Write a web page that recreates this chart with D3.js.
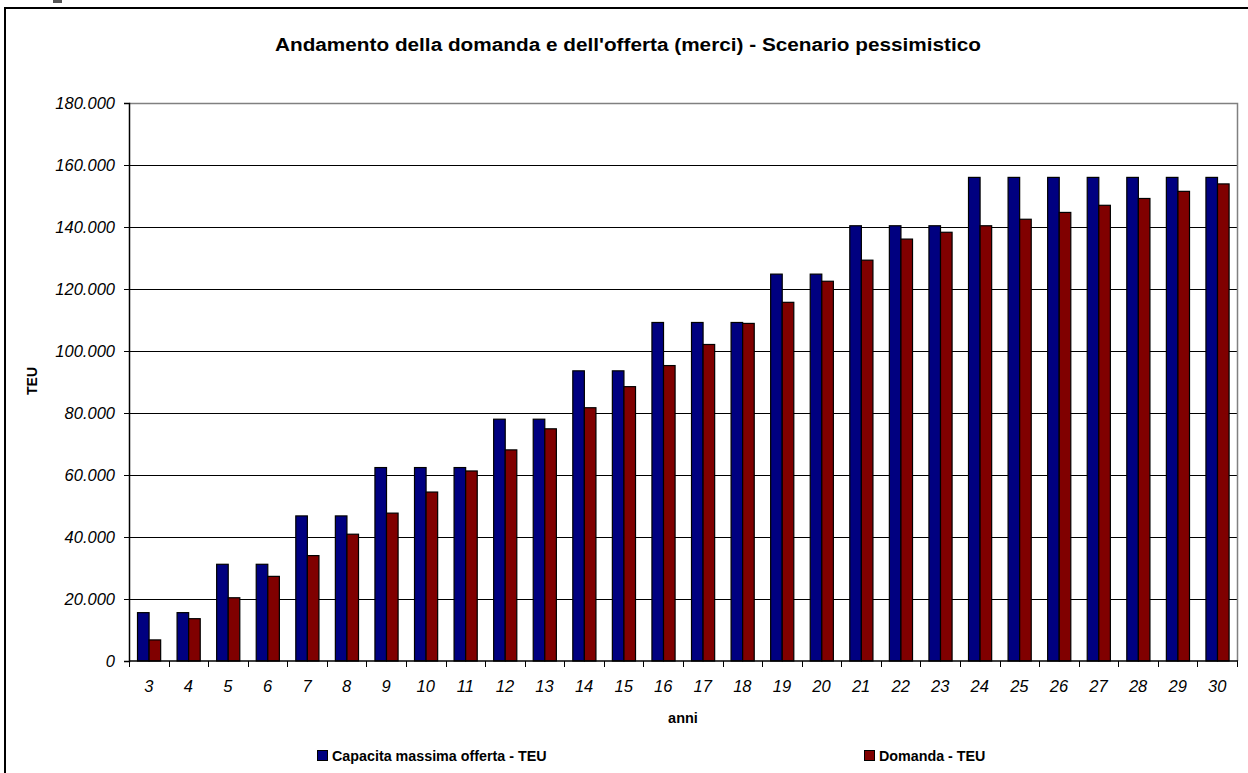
<!DOCTYPE html>
<html>
<head>
<meta charset="utf-8">
<script src="https://cdn.jsdelivr.net/npm/d3@7"></script>
<style>
  html, body { margin: 0; padding: 0; background: #fff; }
  svg { display: block; font-family: "Liberation Sans", Arial, sans-serif; }
</style>
</head>
<body>
<svg id="chart" width="1248" height="773"></svg>
<script>
// Years on the horizontal axis
const anni = [3,4,5,6,7,8,9,10,11,12,13,14,15,16,17,18,19,20,21,22,23,24,25,26,27,28,29,30];

// Maximum capacity offered (TEU)
const capacita = [15600,15600,31200,31200,46800,46800,62400,62400,62400,78000,78000,93600,93600,
  109200,109200,109200,124800,124800,140400,140400,140400,156000,156000,156000,156000,156000,156000,156000];

// Demand (TEU)
const domanda = [6800,13650,20400,27300,34000,40900,47700,54500,61300,68100,74900,81700,88500,
  95300,102100,108900,115700,122500,129300,136100,138300,140400,142500,144700,147000,149200,151500,153900];

const serie = [
  { nome: "Capacita massima offerta - TEU", valori: capacita, colore: "#000080" },
  { nome: "Domanda - TEU", valori: domanda, colore: "#800000" }
];

const yTicks = [0,20000,40000,60000,80000,100000,120000,140000,160000,180000];

const svg = d3.select("#chart");
const W = 1248, H = 773;
const plot = { left: 129, right: 1237, top: 103, bottom: 661 };

svg.append("rect").attr("width", W).attr("height", H).attr("fill", "#fff");

// Chart frame
svg.append("rect")
  .attr("x", 5).attr("y", 8)
  .attr("width", W + 20).attr("height", H + 20)
  .attr("fill", "none").attr("stroke", "#000").attr("stroke-width", 2);
svg.append("rect").attr("x", 53).attr("y", 0).attr("width", 9).attr("height", 3).attr("fill", "#555");

const x = d3.scaleBand().domain(anni).range([plot.left, plot.right]).padding(0);
const x1 = d3.scaleBand().domain(serie.map(s => s.nome))
  .range([x.bandwidth() * 0.215, x.bandwidth() * 0.80]).padding(0);
const y = d3.scaleLinear().domain([0, 180000]).range([plot.bottom, plot.top]);

const fmt = v => v === 0 ? "0" : d3.format(",")(v).replace(/,/g, ".");

// Horizontal gridlines
svg.append("g").selectAll("line")
  .data(yTicks.filter(t => t > 0 && t < 180000))
  .join("line")
  .attr("x1", plot.left).attr("x2", plot.right)
  .attr("y1", d => Math.round(y(d)) + 0.5).attr("y2", d => Math.round(y(d)) + 0.5)
  .attr("stroke", "#000").attr("stroke-width", 1);

// Plot area border (top and right)
svg.append("path")
  .attr("d", `M${plot.left},${plot.top + 0.5}H${plot.right + 0.5}V${plot.bottom}`)
  .attr("fill", "none").attr("stroke", "#808080").attr("stroke-width", 1.5);

// Bars
const gruppi = svg.append("g").selectAll("g")
  .data(serie).join("g").attr("fill", d => d.colore);
gruppi.selectAll("rect")
  .data(s => s.valori.map((v, i) => ({ anno: anni[i], v, nome: s.nome })))
  .join("rect")
  .attr("x", d => x(d.anno) + x1(d.nome))
  .attr("width", x1.bandwidth())
  .attr("y", d => y(d.v))
  .attr("height", d => y(0) - y(d.v))
  .attr("stroke", "#000").attr("stroke-width", 1.2);

// Y axis
const yAxis = d3.axisLeft(y).tickValues(yTicks).tickFormat(fmt).tickSize(5).tickPadding(9);
const gy = svg.append("g").attr("transform", `translate(${plot.left},0)`).call(yAxis);
gy.select(".domain").attr("stroke", "#000").attr("stroke-width", 1.5);
gy.selectAll(".tick line").attr("stroke", "#000");
gy.selectAll(".tick text")
  .attr("font-family", "Liberation Sans, Arial, sans-serif")
  .attr("font-size", 16.5).attr("font-style", "italic").attr("fill", "#000");

// X axis: ticks at category boundaries
const gx = svg.append("g").attr("transform", `translate(0,${plot.bottom})`);
gx.append("line").attr("x1", plot.left).attr("x2", plot.right + 1)
  .attr("stroke", "#000").attr("stroke-width", 1.5);
const confini = anni.map(a => x(a)).concat([plot.right]);
gx.selectAll("line.tk").data(confini).join("line").attr("class", "tk")
  .attr("x1", d => Math.round(d) + 0.5).attr("x2", d => Math.round(d) + 0.5)
  .attr("y1", 0).attr("y2", 6).attr("stroke", "#000");
gx.selectAll("text").data(anni).join("text")
  .attr("x", d => x(d) + x.bandwidth() / 2)
  .attr("y", 31)
  .attr("text-anchor", "middle")
  .attr("font-size", 16.5).attr("font-style", "italic")
  .text(d => d);

// Title
svg.append("text")
  .attr("x", 628).attr("y", 51)
  .attr("text-anchor", "middle")
  .attr("font-size", 17.5).attr("font-weight", "bold")
  .attr("textLength", 706).attr("lengthAdjust", "spacingAndGlyphs")
  .text("Andamento della domanda e dell'offerta (merci) - Scenario pessimistico");

// Axis titles
svg.append("text")
  .attr("transform", "translate(37,381) rotate(-90)")
  .attr("text-anchor", "middle")
  .attr("font-size", 14).attr("font-weight", "bold")
  .text("TEU");
svg.append("text")
  .attr("x", 683).attr("y", 723)
  .attr("text-anchor", "middle")
  .attr("font-size", 14.5).attr("font-weight", "bold")
  .text("anni");

// Legend
const legX = [317, 864];
const leg = svg.append("g").selectAll("g").data(serie).join("g")
  .attr("transform", (d, i) => `translate(${legX[i]},750)`);
leg.append("rect").attr("x", 0.5).attr("y", 0.5).attr("width", 10).attr("height", 10)
  .attr("fill", d => d.colore).attr("stroke", "#000");
leg.append("text").attr("x", 15).attr("y", 11)
  .attr("font-size", 14.3).attr("font-weight", "bold")
  .text(d => d.nome);
</script>
</body>
</html>
